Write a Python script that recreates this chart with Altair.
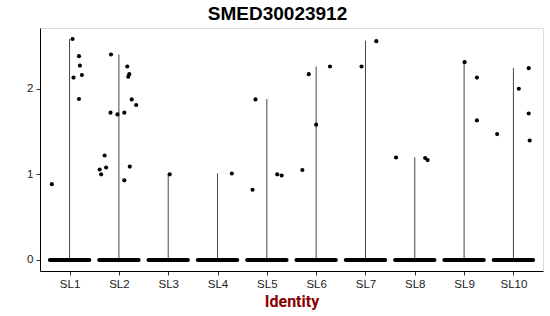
import altair as alt
import pandas as pd

groups = ["SL1", "SL2", "SL3", "SL4", "SL5", "SL6", "SL7", "SL8", "SL9", "SL10"]
# maximum expression per group (top of the violin, which is a thin line)
max_vals = [2.58, 2.40, 1.00, 1.01, 1.88, 2.26, 2.56, 1.20, 2.31, 2.24]

# non-zero cells: group, jitter offset, expression value
pt_group = (["SL1"] * 7 + ["SL2"] * 15 + ["SL3"] * 1 + ["SL4"] * 1 + ["SL5"] * 4
            + ["SL6"] * 4 + ["SL7"] * 2 + ["SL8"] * 3 + ["SL9"] * 3 + ["SL10"] * 5)
pt_offset = [-0.36, 0.06, 0.19, 0.21, 0.08, 0.25, 0.19,
             -0.16, 0.17, 0.21, 0.19, 0.26, 0.35, -0.17, -0.03, 0.11, -0.29, -0.39, -0.26, -0.36, 0.22, 0.11,
             0.03,
             0.29,
             -0.23, -0.29, 0.21, 0.30,
             -0.15, 0.0, -0.28, 0.28,
             0.22, -0.08,
             -0.38, 0.21, 0.26,
             0.01, 0.26, 0.26,
             -0.33, 0.31, 0.11, 0.31, 0.33]
pt_value = [0.885, 2.58, 2.38, 2.27, 2.13, 2.16, 1.88,
            2.40, 2.26, 2.17, 2.14, 1.875, 1.81, 1.72, 1.70, 1.72, 1.22, 1.056, 1.08, 1.00, 1.09, 0.93,
            1.00,
            1.01,
            1.875, 0.82, 1.00, 0.986,
            2.17, 1.58, 1.05, 2.26,
            2.555, 2.26,
            1.197, 1.19, 1.166,
            2.31, 2.13, 1.63,
            1.47, 2.24, 2.00, 1.71, 1.395]

jitter_width = 0.4

idx = {g: i + 1 for i, g in enumerate(groups)}
vdf = pd.DataFrame({"group": groups, "pos": [idx[g] for g in groups], "ymax": max_vals,
                    "zero": [0.0] * len(groups)})
vdf["left"] = vdf["pos"] - jitter_width
vdf["right"] = vdf["pos"] + jitter_width
pdf = pd.DataFrame({"group": pt_group, "off": pt_offset, "value": pt_value})
pdf["x"] = pdf["group"].map(idx) + pdf["off"]

label_expr = "[" + ",".join('"%s"' % g for g in groups) + "][datum.value - 1]"

xscale = alt.Scale(domain=[0.4, 10.6], nice=False, zero=False)
yscale = alt.Scale(domain=[-0.129, 2.709], nice=False, zero=False)

xaxis = alt.Axis(values=list(range(1, 11)), labelExpr=label_expr, title="Identity",
                 grid=False, domainColor="black", domainWidth=1, tickColor="#333333",
                 tickSize=4, labelFont="Liberation Sans", labelFontSize=11.5,
                 labelColor="#1a1a1a", labelPadding=3, titleFont="Roboto",
                 titleFontSize=16, titleFontWeight="bold", titleColor="#8B0000",
                 titlePadding=4)
yaxis = alt.Axis(values=[0, 1, 2], format="d", title=None, grid=False,
                 domainColor="black", domainWidth=1, tickColor="#333333", tickSize=4,
                 labelFont="Liberation Sans", labelFontSize=11.5, labelColor="#1a1a1a",
                 labelPadding=3)

violin = alt.Chart(vdf).mark_rule(color="#444444", strokeWidth=1).encode(
    x=alt.X("pos:Q", scale=xscale, axis=xaxis),
    y=alt.Y("zero:Q", scale=yscale, axis=yaxis),
    y2="ymax:Q",
)

zeros = alt.Chart(vdf).mark_rule(color="black", strokeWidth=4, strokeCap="round").encode(
    x=alt.X("left:Q", scale=xscale),
    x2="right:Q",
    y=alt.Y("zero:Q", scale=yscale),
)

points = alt.Chart(pdf).mark_circle(color="black", opacity=1, size=17).encode(
    x=alt.X("x:Q", scale=xscale),
    y=alt.Y("value:Q", scale=yscale),
)

chart = alt.layer(violin, zeros, points).properties(
    width=503, height=243,
    padding={"left": 40, "top": 28, "right": 7, "bottom": 45},
    autosize="none",
    title=alt.TitleParams("SMED30023912", font="Liberation Sans", fontSize=19,
                          fontWeight="bold", color="black", anchor="middle",
                          frame="group", dx=-14, offset=4),
).configure_view(stroke=None).configure(background="white")

chart.save("out.html", embed_options={"renderer": "svg", "actions": False})
